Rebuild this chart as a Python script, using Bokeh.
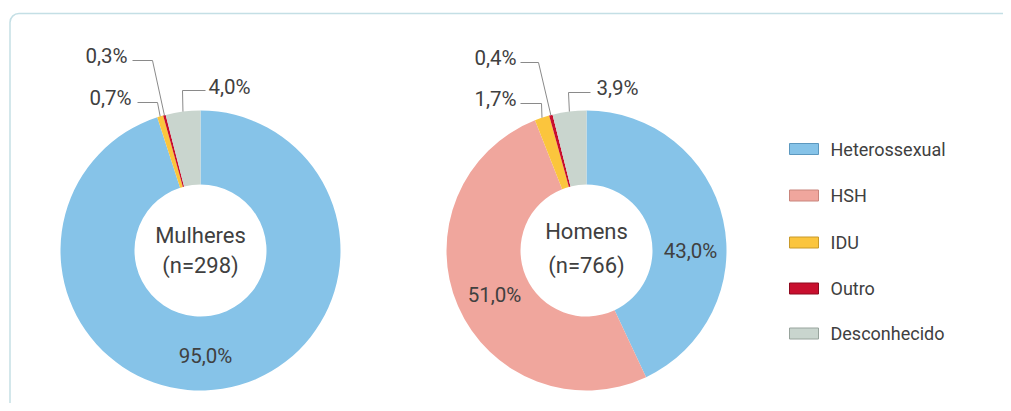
import math
from bokeh.plotting import figure
from bokeh.models import Range1d, BoxAnnotation
from bokeh.core.properties import value
from bokeh.embed import file_html
from bokeh.resources import INLINE

# ---- data ----
categories = ["Heterossexual", "HSH", "IDU", "Outro", "Desconhecido"]
mulheres = [95.0, 0.0, 0.7, 0.3, 4.0]
homens = [43.0, 51.0, 1.7, 0.4, 3.9]
groups = ["Mulheres", "Homens"]
group_n = [298, 766]
colors = ["#86C3E8", "#F0A69D", "#FBC53D", "#C80F2E", "#C9D5CE"]
edge_colors = ["#5C98BF", "#C9857C", "#C99A2A", "#8E0A1F", "#98A49D"]

# ---- layout ----
W, H = 1003, 403
def Y(py):
    return H - py

FONT = value("Roboto")
TXT = "#404040"
R_OUT, R_IN = 140, 66

p = figure(width=W, height=H, x_range=Range1d(0, W), y_range=Range1d(0, H),
           output_backend="svg", toolbar_location=None, min_border=0)
p.axis.visible = False
p.grid.visible = False
p.outline_line_color = None
p.background_fill_color = "white"
p.border_fill_color = "white"

p.add_layout(BoxAnnotation(left=9.5, right=1080, top=Y(13), bottom=-80,
                           fill_alpha=0, fill_color="white", line_color="#C4DFE5",
                           line_alpha=1.0, line_width=1.5, border_radius=9))

def fmt(v):
    return f"{v:.1f}".replace(".", ",") + "%"

def donut(cx, cy, vals):
    total = sum(vals)
    starts, ends, cols = [], [], []
    mids = {}
    cum = 0.0
    for cat, v, c in zip(categories, vals, colors):
        a0 = math.pi / 2 - 2 * math.pi * cum / total
        cum += v
        a1 = math.pi / 2 - 2 * math.pi * cum / total
        mids[cat] = (a0 + a1) / 2
        if v > 0:
            starts.append(a0); ends.append(a1); cols.append(c)
    p.annular_wedge(x=cx, y=Y(cy), inner_radius=R_IN, outer_radius=R_OUT,
                    start_angle=starts, end_angle=ends, direction="clock",
                    fill_color=cols, line_color=None)
    return mids

def labels(cx, cy, vals, mids, inside, outside):
    vmap = dict(zip(categories, vals))
    for cat, (tx, ty) in inside.items():
        p.text(x=[tx], y=[Y(ty)], text=[fmt(vmap[cat])], text_font=FONT,
               text_font_size="20.5px", text_color=TXT, text_align="center",
               text_baseline="middle")
    xs, ys = [], []
    for cat, (ex, ey, lx, tx, ty, align) in outside.items():
        a = mids[cat]
        sx = cx + R_OUT * math.cos(a)
        sy = Y(cy) + R_OUT * math.sin(a)
        xs.append([sx, ex, lx]); ys.append([sy, Y(ey), Y(ey)])
        p.text(x=[tx], y=[Y(ty)], text=[fmt(vmap[cat])], text_font=FONT,
               text_font_size="20.5px", text_color=TXT, text_align=align,
               text_baseline="middle")
    p.multi_line(xs=xs, ys=ys, line_color="#8a8a8a", line_width=1)

# Mulheres
cx1, cy1 = 200, 250
m1 = donut(cx1, cy1, mulheres)
labels(cx1, cy1, mulheres, m1,
       {"Heterossexual": (205, 355)},
       {"IDU": (157, 102, 137, 131, 97, "right"),
        "Outro": (152, 60, 132, 127, 55, "right"),
        "Desconhecido": (182, 90, 205, 208, 86, "left")})

# Homens
cx2, cy2 = 586, 250
m2 = donut(cx2, cy2, homens)
labels(cx2, cy2, homens, m2,
       {"Heterossexual": (690, 250), "HSH": (494, 294)},
       {"IDU": (541, 103, 520, 516, 98, "right"),
        "Outro": (538, 62, 520, 516, 57, "right"),
        "Desconhecido": (568, 92, 590, 596, 87, "left")})

# center texts
for (cx, cy), g, n, dy in [((cx1, cy1), groups[0], group_n[0], 0), ((cx2, cy2), groups[1], group_n[1], -4)]:
    p.text(x=[cx, cx], y=[Y(cy - 15 + dy), Y(cy + 15)], text=[g, f"(n={n})"],
           text_font=FONT, text_font_size="22px", text_color=TXT,
           text_align="center", text_baseline="middle")

# legend
leg_y = [148.5, 195, 242, 288, 333]
p.rect(x=[803.5] * 5, y=[Y(v) for v in leg_y], width=29, height=11,
       fill_color=colors, line_color=edge_colors, line_width=1)
p.text(x=[830] * 5, y=[Y(v) for v in leg_y], text=categories, text_font=FONT,
       text_font_size="18px", text_color=TXT, text_align="left", text_baseline="middle")

open("out.html", "w").write(file_html(p, INLINE))
